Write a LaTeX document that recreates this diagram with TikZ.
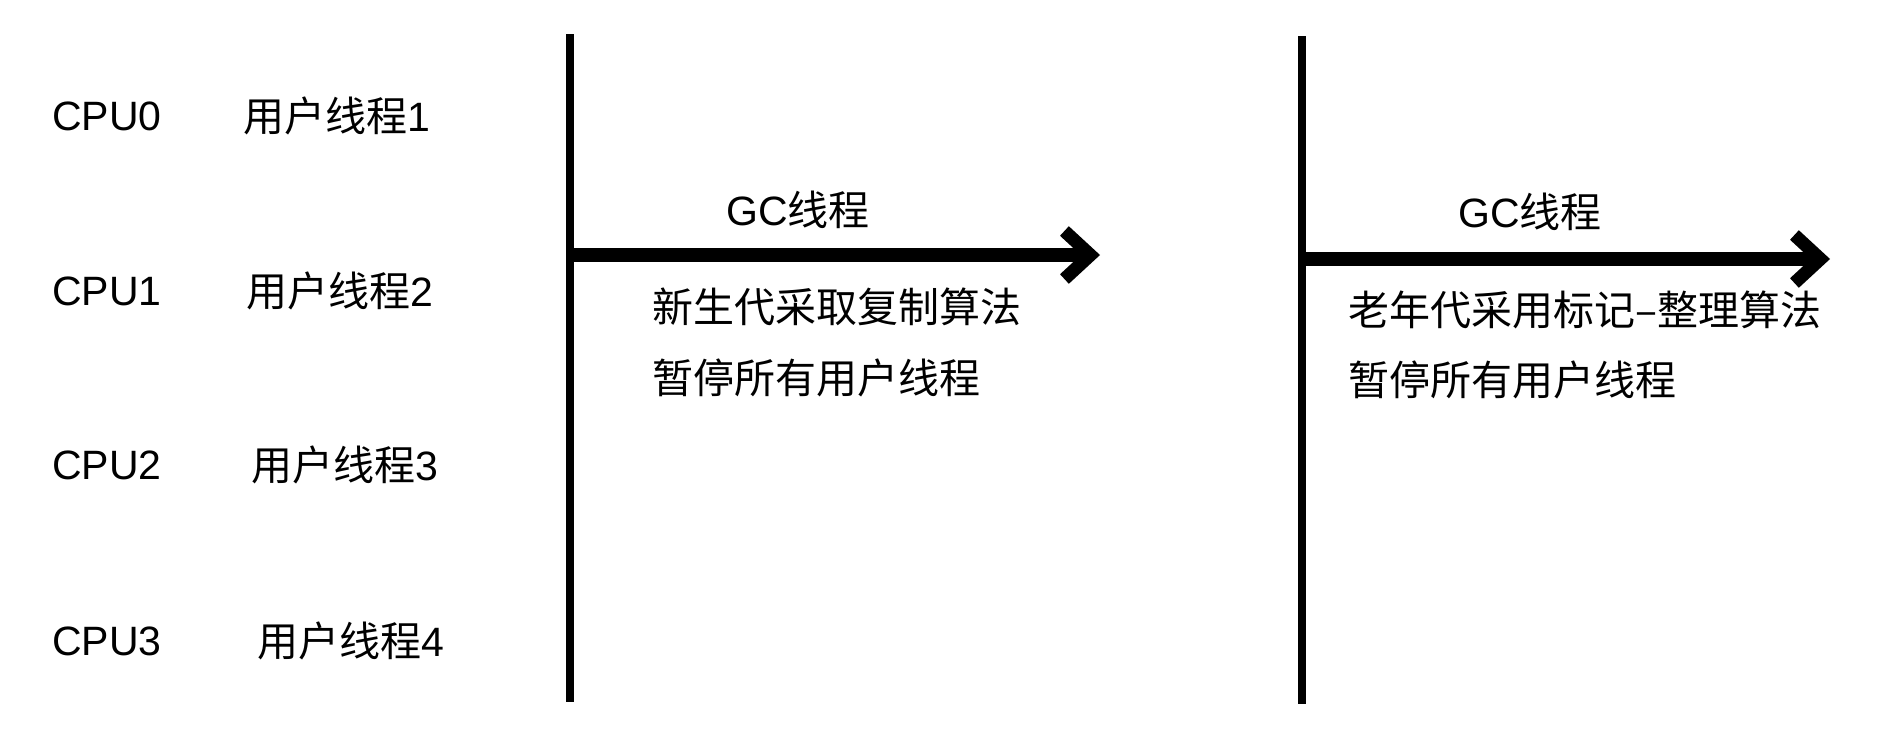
\documentclass[tikz,border=0pt]{standalone}
\usepackage{fontspec}
\setmainfont{Liberation Sans}
\newfontfamily\cjk{Noto Sans CJK SC}
\usetikzlibrary{arrows.meta}
\begin{document}
\begin{tikzpicture}[x=1pt,y=-1pt,
  lbl/.style={anchor=west,inner sep=0pt,font=\fontsize{41}{49}\selectfont},
  bar/.style={line width=8pt},
  gcarrow/.style={line width=14pt,-{Straight Barb[length=26pt,width=48pt,line width=13pt]}}]
\useasboundingbox[fill=white] (0,0) rectangle (1894,734);
% CPU labels
\node[lbl] (c0) at (52,116) {CPU0};
\node[lbl] (c1) at (52,291) {CPU1};
\node[lbl] (c2) at (52,465) {CPU2};
\node[lbl] (c3) at (52,641) {CPU3};
\node[lbl] (t1) at (243,116) {{\cjk 用户线程}1};
\node[lbl] (t2) at (246,291) {{\cjk 用户线程}2};
\node[lbl] (t3) at (251,465) {{\cjk 用户线程}3};
\node[lbl] (t4) at (257,641) {{\cjk 用户线程}4};
% vertical bars
\coordinate (l1) at (570,34);
\coordinate (l2) at (570,702);
\coordinate (r1) at (1302,36);
\coordinate (r2) at (1302,704);
\draw[bar] (l1) -- (l2);
\draw[bar] (r1) -- (r2);
% arrows
\coordinate (a1s) at (570,255);
\coordinate (a1e) at (1100,255);
\coordinate (a2s) at (1302,259);
\coordinate (a2e) at (1830,259);
\draw[gcarrow] (a1s) -- (a1e);
\draw[gcarrow] (a2s) -- (a2e);
% labels
\node[lbl] (g1) at (726,210) {GC{\cjk 线程}};
\node[lbl] (n1) at (652,307) {\cjk 新生代采取复制算法};
\node[lbl] (p1) at (652,378) {\cjk 暂停所有用户线程};
\node[lbl] (g2) at (1458,212) {GC{\cjk 线程}};
\node[lbl] (n2) at (1348,310) {\cjk 老年代采用标记–整理算法};
\node[lbl] (p2) at (1348,380) {\cjk 暂停所有用户线程};
\end{tikzpicture}
\end{document}
